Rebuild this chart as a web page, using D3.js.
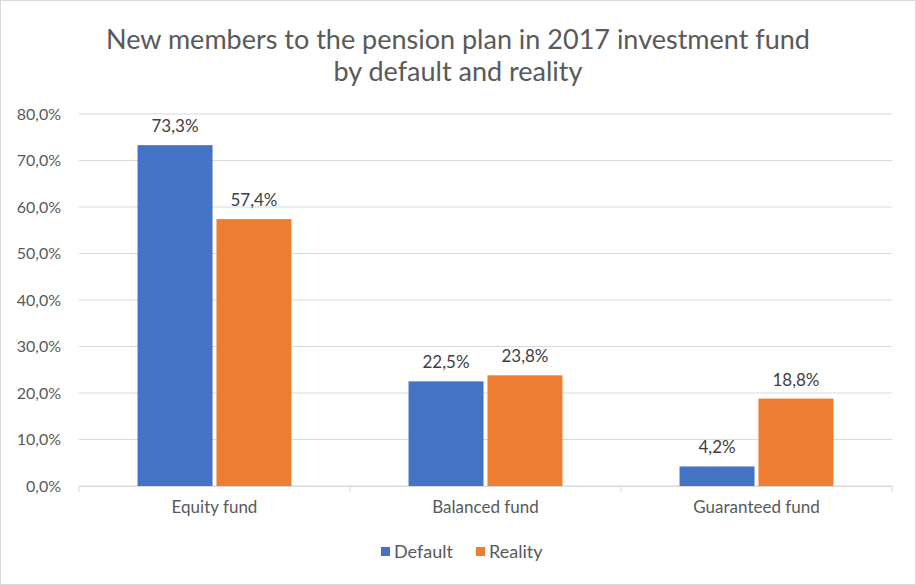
<!DOCTYPE html>
<html><head><meta charset="utf-8">
<script src="https://cdn.jsdelivr.net/npm/d3@7"></script>
<style>body{margin:0;background:#fff;} svg{display:block;font-family:Lato, "Open Sans", sans-serif;}</style>
</head><body><svg id="c" width="916" height="585"></svg>
<script>
const categories = ["Equity fund", "Balanced fund", "Guaranteed fund"];
const seriesNames = ["Default", "Reality"];
const defaultValues = [73.3, 22.5, 4.2];
const realityValues = [57.4, 23.8, 18.8];
const yTicks = [0, 10, 20, 30, 40, 50, 60, 70, 80];
const colors = ["#4472C4", "#ED7D31"];
const titleLines = ["New members to the pension plan in 2017 investment fund", "by default and reality"];

const svg = d3.select("#c");
const W = 916, H = 585;
const m = {left: 79, right: 24, top: 114, bottom: 99};
const fmt = v => d3.format(".1f")(v).replace(".", ",") + "%";

svg.append("rect").attr("x",0.5).attr("y",0.5).attr("width",W-1).attr("height",H-1)
  .attr("fill","#fff").attr("stroke","#d9d9d9");

const x0 = d3.scaleBand().domain(categories).range([m.left, W - m.right]).padding(0);
const x1 = d3.scaleBand().domain(seriesNames).range([x0.bandwidth()*0.216, x0.bandwidth()*0.784]).paddingInner(0.05);
const y = d3.scaleLinear().domain([0, 80]).range([H - m.bottom, m.top]);

// gridlines
svg.append("g").selectAll("line").data(yTicks).join("line")
  .attr("x1", m.left).attr("x2", W - m.right)
  .attr("y1", d => y(d)).attr("y2", d => y(d))
  .attr("stroke", "#d9d9d9").attr("stroke-width", 1);

// y axis labels
const yAxis = d3.axisLeft(y).tickValues(yTicks).tickFormat(fmt).tickSize(0).tickPadding(18);
const ga = svg.append("g").attr("transform", `translate(${m.left},0)`).call(yAxis);
ga.select(".domain").remove();
ga.selectAll("text").attr("fill", "#595959").style("font-size", "16px").style("font-family","Lato, 'Open Sans', sans-serif");

// x axis
const xAxis = d3.axisBottom(x0).tickSize(0).tickPadding(15);
const gx = svg.append("g").attr("transform", `translate(0,${y(0)})`).call(xAxis);
gx.select(".domain").attr("stroke", "#d9d9d9");
gx.selectAll("text").attr("fill", "#595959").style("font-size", "17px").style("font-family","Lato, 'Open Sans', sans-serif");
// category separator ticks
const bounds = categories.map(c => x0(c)).concat([x0(categories[categories.length-1]) + x0.bandwidth()]);
svg.append("g").selectAll("line").data(bounds).join("line")
  .attr("x1", d => d).attr("x2", d => d).attr("y1", y(0)).attr("y2", y(0) + 6)
  .attr("stroke", "#d9d9d9");

// bars
const rows = categories.map((c, i) => ({cat: c, vals: [defaultValues[i], realityValues[i]]}));
const g = svg.append("g");
rows.forEach(r => {
  r.vals.forEach((v, j) => {
    const bx = x0(r.cat) + x1(seriesNames[j]);
    g.append("rect").attr("x", bx).attr("y", y(v)).attr("width", x1.bandwidth())
      .attr("height", y(0) - y(v)).attr("fill", colors[j]);
    g.append("text").attr("x", bx + x1.bandwidth()/2).attr("y", y(v) - 13)
      .attr("text-anchor", "middle").attr("fill", "#404040").style("font-size", "17px").text(fmt(v));
  });
});

// title
svg.append("g").selectAll("text").data(titleLines).join("text")
  .attr("x", 458).attr("y", (d, i) => 49 + i * 32)
  .attr("text-anchor", "middle").attr("fill", "#595959").style("font-size", "27px").text(d => d);

// legend
const leg = svg.append("g");
const legX = [381, 476];
seriesNames.forEach((s, j) => {
  leg.append("rect").attr("x", legX[j]).attr("y", 547).attr("width", 9).attr("height", 9).attr("fill", colors[j]);
  leg.append("text").attr("x", legX[j] + 13).attr("y", 558).attr("fill", "#595959").style("font-size", "18px").text(s);
});
</script></body></html>
